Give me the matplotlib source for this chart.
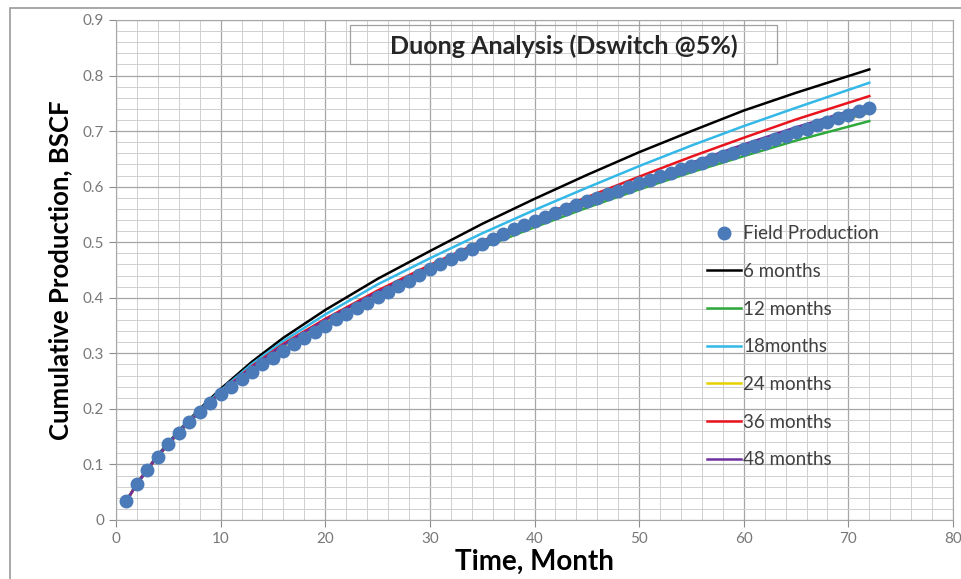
import matplotlib.pyplot as plt
import numpy as np
from matplotlib.patches import Rectangle

plt.rcParams['font.family'] = ['Lato', 'DejaVu Sans']

# field data, monthly cumulative production (BSCF)
months = np.arange(1, 73)
field = [0.034, 0.065, 0.090, 0.114, 0.137, 0.157, 0.176, 0.194, 0.211, 0.226,
         0.240, 0.254, 0.267, 0.280, 0.292, 0.304, 0.316, 0.328, 0.339, 0.350,
         0.361, 0.371, 0.381, 0.391, 0.401, 0.411, 0.421, 0.431, 0.441, 0.451,
         0.460, 0.469, 0.478, 0.487, 0.496, 0.505, 0.514, 0.523, 0.531, 0.539,
         0.546, 0.553, 0.560, 0.567, 0.574, 0.580, 0.587, 0.593, 0.600, 0.606,
         0.612, 0.619, 0.625, 0.631, 0.637, 0.643, 0.649, 0.655, 0.661, 0.667,
         0.673, 0.679, 0.686, 0.692, 0.698, 0.704, 0.711, 0.717, 0.723, 0.729,
         0.736, 0.742]

# Duong model forecasts for different matching periods
t_model = [1, 2, 3, 4, 6, 8, 10, 13, 16, 20, 25, 30, 35, 40, 45, 50, 55, 60, 65, 72]
m6 = [0.035, 0.066, 0.092, 0.117, 0.161, 0.200, 0.236, 0.285, 0.328, 0.378,
      0.434, 0.484, 0.533, 0.578, 0.621, 0.662, 0.700, 0.737, 0.769, 0.811]
m12 = [0.034, 0.065, 0.090, 0.114, 0.157, 0.194, 0.228, 0.274, 0.313, 0.357,
       0.406, 0.450, 0.490, 0.527, 0.562, 0.595, 0.626, 0.655, 0.683, 0.718]
m18 = [0.035, 0.065, 0.091, 0.116, 0.160, 0.198, 0.233, 0.281, 0.322, 0.370,
       0.424, 0.471, 0.516, 0.558, 0.598, 0.637, 0.674, 0.709, 0.742, 0.787]
m24 = [0.034, 0.065, 0.090, 0.114, 0.157, 0.195, 0.229, 0.275, 0.314, 0.358,
       0.408, 0.452, 0.493, 0.531, 0.567, 0.601, 0.634, 0.665, 0.695, 0.733]
m36 = [0.034, 0.065, 0.091, 0.115, 0.158, 0.196, 0.230, 0.277, 0.317, 0.362,
       0.413, 0.459, 0.502, 0.542, 0.581, 0.618, 0.654, 0.688, 0.721, 0.763]
m48 = [0.034, 0.065, 0.090, 0.115, 0.158, 0.195, 0.229, 0.275, 0.315, 0.360,
       0.410, 0.455, 0.497, 0.536, 0.573, 0.609, 0.643, 0.676, 0.707, 0.747]

series = [(m6, '6 months', 'black'),
          (m12, '12 months', '#2eaa3c'),
          (m18, '18months', '#33b8e8'),
          (m24, '24 months', '#e8d000'),
          (m36, '36 months', '#e8141e'),
          (m48, '48 months', '#7030a0')]

fig = plt.figure(figsize=(9.61, 5.79), dpi=100)
ax = fig.add_axes([0.1207, 0.1019, 0.8710, 0.8636])

ax.plot(months, field, 'o', color='#4a7ab8', markersize=9, label='Field Production', zorder=5)
for vals, name, col in series:
    ax.plot(t_model, vals, '-', color=col, lw=1.8, label=name, zorder=3)

ax.set_xlim(0, 80)
ax.set_ylim(0, 0.9)
ax.set_xticks(np.arange(0, 81, 10))
ax.set_yticks(np.arange(0, 0.91, 0.1))
ax.set_yticklabels(['0', '0.1', '0.2', '0.3', '0.4', '0.5', '0.6', '0.7', '0.8', '0.9'])
ax.set_xticks(np.arange(0, 81, 2), minor=True)
ax.set_yticks(np.arange(0, 0.901, 0.02), minor=True)
ax.grid(which='major', color='#a6a6a6', lw=0.9)
ax.grid(which='minor', color='#cfcfcf', lw=0.7)
ax.set_axisbelow(True)
ax.tick_params(which='major', colors='#8c8c8c', labelcolor='#787878', labelsize=11, length=5)
ax.tick_params(which='minor', length=0)
for s in ax.spines.values():
    s.set_color('#a6a6a6')

ax.set_xlabel('Time, Month', fontsize=20, fontweight='bold', labelpad=2)
ax.set_ylabel('Cumulative Production, BSCF', fontsize=18.5, fontweight='bold')
ax.yaxis.set_label_coords(-0.052, 0.5)

# title box
fig.patches.append(Rectangle((350 / 961, 1 - 64 / 579), 427 / 961, 39 / 579,
                             transform=fig.transFigure, fill=False, ec='#a0a0a0', lw=0.9))
fig.text(564 / 961, 1 - 46 / 579, 'Duong Analysis (Dswitch @5%)', ha='center', va='center',
         fontsize=18, fontweight='bold', color='#262626')

# outer chart frame
fig.patches.append(Rectangle((10 / 961, -0.02), 1.0, 1 - 8 / 579 + 0.02,
                             transform=fig.transFigure, fill=False, ec='#9a9a9a', lw=1.2))

leg = ax.legend(loc='upper left', bbox_to_anchor=(698 / 961, 1 - 216 / 579),
                bbox_transform=fig.transFigure, frameon=False, fontsize=13.5,
                handlelength=1.8, handletextpad=0.1, labelspacing=1.1, borderpad=0)
for t in leg.get_texts():
    t.set_color('#404040')

fig.savefig('out.png', dpi=100)
